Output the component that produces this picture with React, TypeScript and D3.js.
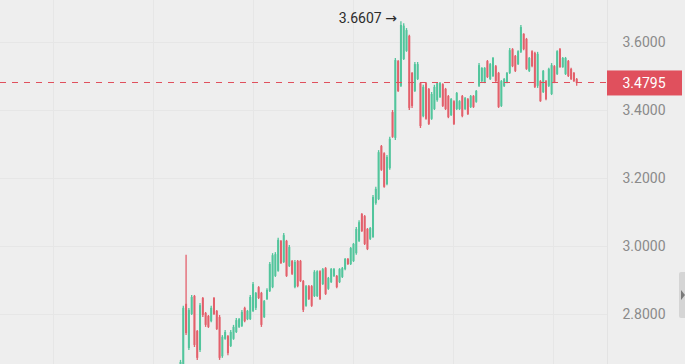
import * as d3 from "d3";
import React, { useRef, useEffect } from "react";

// OHLC, one entry per bar
const opens = [
  2.641, 2.647, 2.830, 2.700, 2.800, 2.853, 2.750, 2.694, 2.847, 2.803,
  2.794, 2.779, 2.847, 2.809, 2.791, 2.676, 2.727, 2.735, 2.706, 2.727,
  2.747, 2.762, 2.765, 2.818, 2.785, 2.785, 2.809, 2.818, 2.879, 2.862,
  2.791, 2.844, 2.868, 2.879, 2.912, 2.927, 3.015, 2.953, 3.015, 2.941,
  2.956, 2.879, 2.956, 2.956, 2.897, 2.824, 2.882, 2.882, 2.853, 2.853,
  2.926, 2.888, 2.935, 2.874, 2.894, 2.912, 2.912, 2.894, 2.909, 2.932,
  2.962, 2.947, 2.956, 2.979, 3.015, 3.094, 3.088, 3.050, 3.021, 3.026,
  3.126, 3.138, 3.294, 3.273, 3.182, 3.229, 3.394, 3.318, 3.544, 3.471,
  3.550, 3.574, 3.618, 3.509, 3.456, 3.491, 3.479, 3.382, 3.479, 3.462,
  3.374, 3.403, 3.429, 3.438, 3.476, 3.462, 3.441, 3.385, 3.426, 3.403,
  3.403, 3.441, 3.403, 3.432, 3.409, 3.441, 3.424, 3.471, 3.485, 3.482,
  3.544, 3.491, 3.500, 3.529, 3.509, 3.412, 3.471, 3.482, 3.509, 3.579,
  3.559, 3.535, 3.571, 3.624, 3.609, 3.515, 3.573, 3.568, 3.471, 3.485,
  3.453, 3.485, 3.471, 3.447, 3.529, 3.506, 3.579, 3.526, 3.506, 3.544,
  3.521, 3.509, 3.491,
];
const highs = [
  2.665, 2.824, 2.974, 2.818, 2.856, 2.856, 2.753, 2.832, 2.850, 2.806,
  2.797, 2.824, 2.850, 2.812, 2.797, 2.738, 2.753, 2.738, 2.753, 2.768,
  2.788, 2.788, 2.812, 2.821, 2.812, 2.856, 2.894, 2.865, 2.882, 2.865,
  2.841, 2.876, 2.953, 2.979, 2.982, 3.024, 3.018, 3.038, 3.018, 3.003,
  2.959, 2.959, 2.959, 2.959, 2.900, 2.885, 2.885, 2.885, 2.929, 2.929,
  2.929, 2.935, 2.938, 2.909, 2.935, 2.935, 2.915, 2.935, 2.938, 2.965,
  2.965, 2.997, 3.009, 3.056, 3.076, 3.097, 3.091, 3.053, 3.056, 3.150,
  3.174, 3.282, 3.297, 3.276, 3.268, 3.321, 3.400, 3.553, 3.547, 3.6607,
  3.655, 3.641, 3.621, 3.512, 3.541, 3.541, 3.482, 3.474, 3.482, 3.465,
  3.453, 3.474, 3.482, 3.482, 3.479, 3.465, 3.444, 3.435, 3.429, 3.453,
  3.429, 3.444, 3.438, 3.435, 3.444, 3.444, 3.459, 3.538, 3.526, 3.526,
  3.547, 3.538, 3.556, 3.532, 3.512, 3.488, 3.494, 3.512, 3.582, 3.582,
  3.562, 3.576, 3.650, 3.626, 3.612, 3.556, 3.576, 3.571, 3.571, 3.488,
  3.518, 3.488, 3.524, 3.538, 3.532, 3.576, 3.582, 3.556, 3.556, 3.547,
  3.524, 3.512, 3.494,
];
const lows = [
  2.635, 2.641, 2.738, 2.694, 2.797, 2.703, 2.665, 2.688, 2.791, 2.762,
  2.759, 2.776, 2.797, 2.753, 2.665, 2.671, 2.724, 2.679, 2.703, 2.724,
  2.744, 2.759, 2.762, 2.776, 2.782, 2.782, 2.806, 2.812, 2.844, 2.762,
  2.788, 2.841, 2.865, 2.876, 2.909, 2.924, 2.947, 2.950, 2.909, 2.938,
  2.915, 2.876, 2.879, 2.894, 2.806, 2.821, 2.841, 2.821, 2.850, 2.850,
  2.841, 2.885, 2.856, 2.871, 2.891, 2.909, 2.876, 2.891, 2.906, 2.929,
  2.944, 2.944, 2.953, 2.974, 3.012, 3.041, 3.003, 2.988, 3.018, 3.024,
  3.121, 3.135, 3.221, 3.171, 3.179, 3.224, 3.318, 3.312, 3.453, 3.468,
  3.547, 3.571, 3.400, 3.406, 3.453, 3.488, 3.347, 3.379, 3.371, 3.356,
  3.371, 3.400, 3.424, 3.435, 3.409, 3.400, 3.376, 3.382, 3.356, 3.400,
  3.400, 3.379, 3.400, 3.385, 3.406, 3.406, 3.421, 3.468, 3.482, 3.479,
  3.494, 3.488, 3.497, 3.482, 3.406, 3.409, 3.468, 3.479, 3.506, 3.526,
  3.512, 3.532, 3.568, 3.576, 3.518, 3.512, 3.526, 3.465, 3.465, 3.424,
  3.450, 3.429, 3.468, 3.444, 3.479, 3.503, 3.524, 3.524, 3.503, 3.497,
  3.488, 3.482, 3.471,
];
const closes = [
  2.659, 2.818, 2.744, 2.812, 2.850, 2.709, 2.671, 2.826, 2.797, 2.768,
  2.762, 2.818, 2.800, 2.756, 2.671, 2.733, 2.747, 2.685, 2.747, 2.762,
  2.782, 2.785, 2.806, 2.779, 2.809, 2.850, 2.888, 2.862, 2.847, 2.768,
  2.838, 2.871, 2.947, 2.973, 2.976, 3.018, 2.950, 3.032, 2.912, 2.997,
  2.918, 2.953, 2.882, 2.897, 2.812, 2.882, 2.844, 2.824, 2.924, 2.926,
  2.844, 2.932, 2.859, 2.906, 2.932, 2.932, 2.879, 2.932, 2.935, 2.962,
  2.947, 2.994, 3.006, 3.050, 3.070, 3.044, 3.006, 2.991, 3.053, 3.144,
  3.168, 3.276, 3.224, 3.174, 3.262, 3.315, 3.321, 3.547, 3.456, 3.650,
  3.648, 3.635, 3.406, 3.412, 3.535, 3.535, 3.353, 3.468, 3.374, 3.359,
  3.447, 3.468, 3.479, 3.479, 3.412, 3.403, 3.379, 3.432, 3.359, 3.450,
  3.426, 3.382, 3.435, 3.388, 3.441, 3.409, 3.456, 3.532, 3.524, 3.524,
  3.497, 3.535, 3.553, 3.485, 3.409, 3.485, 3.491, 3.509, 3.576, 3.529,
  3.515, 3.573, 3.644, 3.579, 3.521, 3.553, 3.529, 3.468, 3.565, 3.426,
  3.515, 3.432, 3.521, 3.532, 3.482, 3.573, 3.526, 3.553, 3.553, 3.500,
  3.491, 3.485, 3.4795,
];

const priceTicks = [2.8, 3.0, 3.2, 3.4, 3.6];
const lastPrice = 3.4795;
const peakPrice = 3.6607;

const upColor = "#52c59c";
const downColor = "#e3606b";
const tagColor = "#e0505d";

const App = () => {
  const svgRef = useRef<SVGSVGElement>(null);
  const width = 685;
  const height = 364;
  const plotRight = 607;

  useEffect(() => {
    const svg = d3.select(svgRef.current);
    svg.selectAll("*").remove();

    const y = d3.scaleLinear().domain([2.8, 3.6]).range([314, 42]);
    const x = d3.scaleLinear().domain([0, opens.length - 1]).range([180.5, 576.7]);

    svg.append("rect")
      .attr("width", width)
      .attr("height", height)
      .attr("fill", "#eeeeee");

    // grid
    const grid = svg.append("g").attr("stroke", "#e6e6e6").attr("stroke-width", 1);
    d3.range(53, plotRight, 100).forEach((gx) => {
      grid.append("line")
        .attr("x1", gx + 0.5).attr("x2", gx + 0.5)
        .attr("y1", 0).attr("y2", height);
    });
    priceTicks.forEach((t) => {
      grid.append("line")
        .attr("x1", 0).attr("x2", plotRight)
        .attr("y1", Math.round(y(t)) + 0.5).attr("y2", Math.round(y(t)) + 0.5);
    });
    svg.append("line")
      .attr("x1", plotRight + 0.5).attr("x2", plotRight + 0.5)
      .attr("y1", 0).attr("y2", height)
      .attr("stroke", "#e3e3e3");

    // candles
    const candles = svg.append("g")
      .selectAll("g")
      .data(opens.map((o, i) => ({ o, h: highs[i], l: lows[i], c: closes[i], i })))
      .enter()
      .append("g")
      .attr("fill", (d) => (d.c >= d.o ? upColor : downColor))
      .attr("stroke", (d) => (d.c >= d.o ? upColor : downColor));

    candles.append("line")
      .attr("x1", (d) => x(d.i)).attr("x2", (d) => x(d.i))
      .attr("y1", (d) => y(d.h)).attr("y2", (d) => y(d.l))
      .attr("stroke-width", 1.3);

    candles.append("rect")
      .attr("x", (d) => x(d.i) - 1)
      .attr("width", 2)
      .attr("y", (d) => y(Math.max(d.o, d.c)))
      .attr("height", (d) => Math.max(1, Math.abs(y(d.o) - y(d.c))))
      .attr("stroke", "none");

    // last price line
    const ly = y(lastPrice);
    svg.append("line")
      .attr("x1", 0).attr("x2", plotRight)
      .attr("y1", Math.floor(ly) + 0.5).attr("y2", Math.floor(ly) + 0.5)
      .attr("stroke", tagColor)
      .attr("stroke-width", 1)
      .attr("stroke-dasharray", "6,6");

    // price axis
    const axis = svg.append("g")
      .attr("transform", `translate(644,0)`)
      .call(d3.axisRight(y).tickValues(priceTicks).tickSize(0).tickFormat(d3.format(".4f")));
    axis.select(".domain").remove();
    axis.selectAll("text")
      .attr("x", 0)
      .attr("text-anchor", "middle")
      .attr("fill", "#8a8a8a")
      .attr("font-size", 14)
      .attr("font-family", "Roboto, 'Noto Sans', sans-serif");

    // last price tag
    svg.append("rect")
      .attr("x", plotRight)
      .attr("y", ly - 12.5)
      .attr("width", 75)
      .attr("height", 25)
      .attr("fill", tagColor);
    svg.append("text")
      .attr("x", 644)
      .attr("y", ly)
      .attr("dy", "0.35em")
      .attr("text-anchor", "middle")
      .attr("fill", "#ffffff")
      .attr("font-size", 14)
      .attr("font-family", "Roboto, 'Noto Sans', sans-serif")
      .text(d3.format(".4f")(lastPrice));

    // peak marker
    const peakIndex = highs.indexOf(peakPrice);
    svg.append("text")
      .attr("x", x(peakIndex) - 4)
      .attr("y", y(peakPrice) - 3)
      .attr("dy", "0.35em")
      .attr("text-anchor", "end")
      .attr("fill", "#2b2b2b")
      .attr("font-size", 14)
      .attr("font-family", "Roboto, 'DejaVu Sans', sans-serif")
      .text(`${d3.format(".4f")(peakPrice)} \u2192`);

    // side handle
    svg.append("rect")
      .attr("x", 679).attr("y", 272)
      .attr("width", 8).attr("height", 46)
      .attr("rx", 2)
      .attr("fill", "#d5d5d5");
    svg.append("path")
      .attr("d", "M681,290 L685,295 L681,300 Z")
      .attr("fill", "#7a7a7a");
  }, []);

  return (
    <svg
      ref={svgRef}
      width={width}
      height={height}
      style={{ position: "absolute", left: 0, top: 0 }}
    />
  );
};

export default App;
